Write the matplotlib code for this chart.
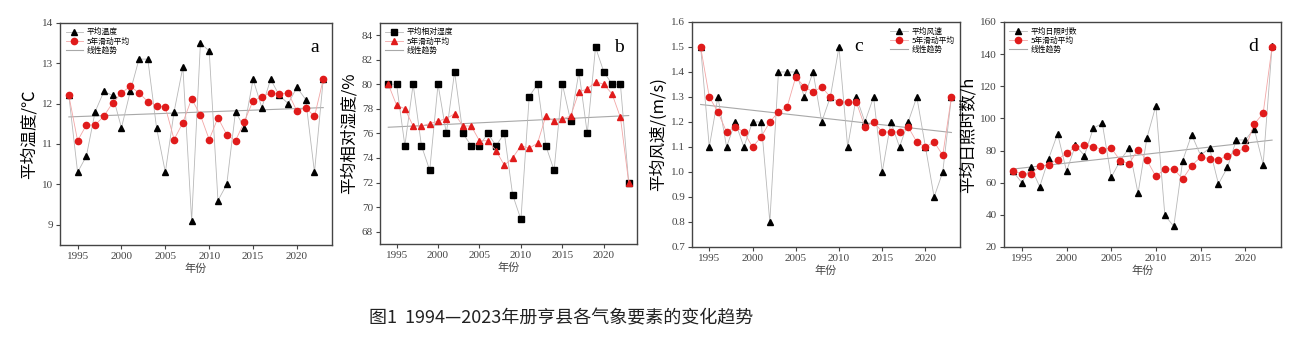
import numpy as np
import matplotlib.pyplot as plt
from matplotlib.font_manager import FontProperties

years = np.arange(1994, 2024)

# a: temperature
temp = [12.2, 10.3, 10.7, 11.8, 12.3, 12.2, 11.4, 12.3, 13.1, 13.1,
        11.4, 10.3, 11.8, 12.9, 9.1, 13.5, 13.3, 9.6, 10.0, 11.8,
        11.4, 12.6, 11.9, 12.6, 12.2, 12.0, 12.4, 12.1, 10.3, 12.6]
temp_ma = [12.2, 11.08, 11.47, 11.47, 11.69, 12.02, 12.26, 12.43, 12.26, 12.05,
           11.95, 11.91, 11.11, 11.53, 12.12, 11.71, 11.11, 11.65, 11.23, 11.08,
           11.55, 12.07, 12.16, 12.27, 12.23, 12.27, 11.81, 11.90, 11.68, 12.6]
temp_trend = [11.67, 11.9]

# b: relative humidity
rh = [80, 80, 75, 80, 75, 73, 80, 76, 81, 76,
      75, 75, 76, 75, 76, 71, 69, 79, 80, 75,
      73, 80, 77, 81, 76, 83, 81, 80, 80, 72]
rh_ma = [80, 78.3, 78.0, 76.6, 76.6, 76.8, 77.0, 77.2, 77.6, 76.6,
         76.6, 75.4, 75.4, 74.6, 73.4, 74.0, 75.0, 74.8, 75.2, 77.4,
         77.0, 77.2, 77.4, 79.4, 79.6, 80.2, 80.0, 79.2, 77.3, 72]
rh_trend = [76.5, 77.45]

# c: wind speed
wind = [1.5, 1.1, 1.3, 1.1, 1.2, 1.1, 1.2, 1.2, 0.8, 1.4,
        1.4, 1.4, 1.3, 1.4, 1.2, 1.3, 1.5, 1.1, 1.3, 1.2,
        1.3, 1.0, 1.2, 1.1, 1.2, 1.3, 1.1, 0.9, 1.0, 1.3]
wind_ma = [1.5, 1.3, 1.24, 1.16, 1.18, 1.16, 1.10, 1.14, 1.2, 1.24,
           1.26, 1.38, 1.34, 1.32, 1.34, 1.30, 1.28, 1.28, 1.28, 1.18,
           1.20, 1.16, 1.16, 1.16, 1.18, 1.12, 1.10, 1.12, 1.067, 1.3]
wind_trend = [1.27, 1.158]

# d: sunshine hours
sun = [67, 60, 69.7, 57.5, 75, 90.5, 67.2, 83.3, 76.9, 94,
       96.9, 63.3, 73.8, 81.6, 53.4, 88, 108, 39.8, 32.8, 73.8,
       89.9, 77, 81.6, 59.2, 69.5, 86.6, 86.6, 93.6, 71.3, 145]
sun_ma = [67.2, 65.6, 65.6, 70.1, 71.3, 74.4, 78.4, 82.1, 83.3, 82.5,
          80.6, 81.6, 73.8, 71.8, 80.6, 73.9, 63.9, 68.5, 68.5, 62.3,
          70.7, 75.9, 75.0, 74.4, 76.5, 79.2, 81.4, 96.5, 103.1, 144.7]
sun_trend = [68.5, 86.5]

cjk = ['Noto Sans CJK SC', 'DejaVu Sans']
plt.rcParams['font.family'] = ['Liberation Serif', 'Noto Sans CJK SC']

fig = plt.figure(figsize=(13, 3.43), dpi=100)


def panel(rect, y, ma, trend, ylim, yticks, ylabel, names, letter,
          mk_obs, mk_ma, loc, letter_x):
    ax = fig.add_axes(rect)
    ax.plot(years, y, color='#b8b8b8', lw=0.6, marker=mk_obs, ms=4.2,
            mfc='black', mec='black', label=names[0], zorder=2)
    ax.plot(years, ma, color='#f2a6a6', lw=0.6, marker=mk_ma, ms=4.5,
            mfc='#e01b1b', mec='#e01b1b', label=names[1], zorder=3)
    ax.plot([years[0], years[-1]], trend, color='#a8a8a8', lw=0.8,
            label='线性趋势', zorder=1)
    ax.set_xlim(1993, 2024)
    ax.set_ylim(*ylim)
    ax.set_xticks([1995, 2000, 2005, 2010, 2015, 2020])
    ax.set_yticks(yticks)
    ax.tick_params(direction='out', length=3, width=0.8, labelsize=8,
                   colors='#444444', pad=2)
    for s in ax.spines.values():
        s.set_color('#444444')
        s.set_linewidth(1.0)
    ax.set_xlabel('年份', family=cjk, fontsize=8, color='#444444', labelpad=2)
    ax.set_ylabel(ylabel, family=cjk, fontsize=12, labelpad=3)
    ax.legend(loc=loc, frameon=False, handlelength=2.2,
              prop=FontProperties(family=cjk, size=5.6),
              labelspacing=0.15, borderaxespad=0.3, handletextpad=0.5)
    ax.text(letter_x, 0.87, letter, transform=ax.transAxes, fontsize=14,
            family='Liberation Serif', ha='center')
    return ax


panel([0.0462, 0.2857, 0.2092, 0.648], temp, temp_ma, temp_trend,
      (8.5, 14), [9, 10, 11, 12, 13, 14], '平均温度/℃',
      ['平均温度', '5年滑动平均'], 'a', '^', 'o', 'upper left', 0.935)
panel([0.2923, 0.2886, 0.1977, 0.645], rh, rh_ma, rh_trend,
      (67, 85), list(range(68, 85, 2)), '平均相对湿度/%',
      ['平均相对湿度', '5年滑动平均'], 'b', 's', '^', 'upper left', 0.93)
panel([0.5323, 0.2799, 0.2062, 0.656], wind, wind_ma, wind_trend,
      (0.7, 1.6), np.round(np.arange(0.7, 1.61, 0.1), 1), '平均风速/(m/s)',
      ['平均风速', '5年滑动平均'], 'c', '^', 'o', 'upper right', 0.62)
panel([0.7723, 0.2799, 0.2131, 0.656], sun, sun_ma, sun_trend,
      (20, 160), list(range(20, 161, 20)), '平均日照时数/h',
      ['平均日照时数', '5年滑动平均'], 'd', '^', 'o', 'upper left', 0.9)

fig.text(0.432, 0.073, '图1  1994—2023年册亨县各气象要素的变化趋势',
         family=cjk, fontsize=13, ha='center', va='center', color='#222222')

fig.savefig('out.png', dpi=100)
